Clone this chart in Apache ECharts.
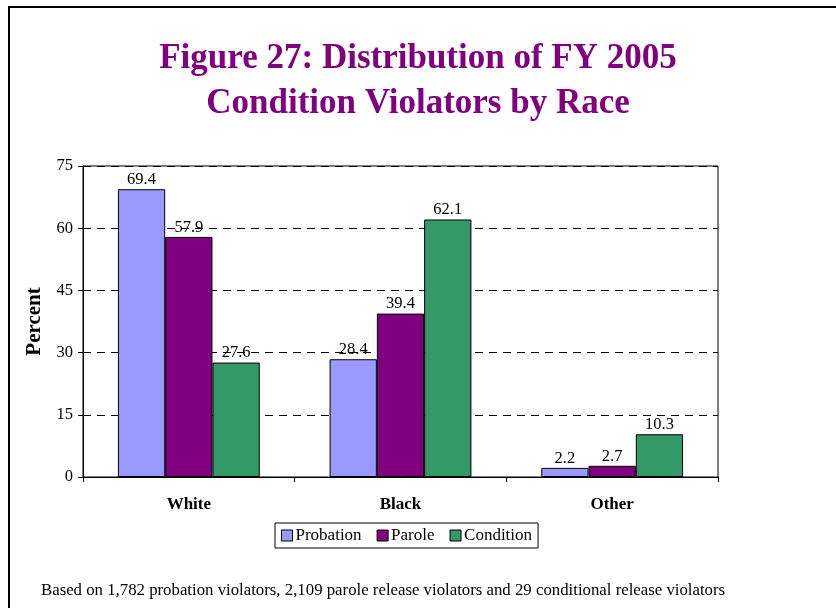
<!DOCTYPE html>
<html><head><meta charset="utf-8">
<script src="https://cdn.jsdelivr.net/npm/echarts@6/dist/echarts.min.js"></script>
<style>html,body{margin:0;padding:0;background:#fff}#c{width:836px;height:608px}</style>
</head><body><div id="c"></div>
<script>
var categories = ['White', 'Black', 'Other'];
var probation = [69.4, 28.4, 2.2];
var parole = [57.9, 39.4, 2.7];
var condition = [27.6, 62.1, 10.3];
var seriesNames = ['Probation', 'Parole', 'Condition'];
var colors = ['#9999FF', '#800080', '#339966'];

var serif = '"Liberation Serif", "Times New Roman", serif';
var chart = echarts.init(document.getElementById('c'), null, {renderer: 'canvas'});
function mk(name, data, color) {
  return {
    name: name, type: 'bar', data: data, barGap: '0%', barCategoryGap: '33%',
    itemStyle: {color: color, borderColor: '#000', borderWidth: 1},
    label: {show: true, position: 'top', distance: 1, color: '#000', fontFamily: serif, fontSize: 16.5,
      formatter: function (p) { return p.value.toFixed(1); }},
    emphasis: {disabled: true}
  };
}
chart.setOption({
  animation: false,
  backgroundColor: '#fff',
  title: {
    text: 'Figure 27: Distribution of FY 2005\nCondition Violators by Race',
    left: 'center', top: 31,
    textStyle: {fontFamily: serif, fontWeight: 'bold', fontSize: 35, color: '#800080', lineHeight: 45}
  },
  graphic: [
    {type: 'rect', shape: {x: 9, y: 7, width: 900, height: 700}, style: {fill: 'none', stroke: '#000', lineWidth: 2}, silent: true},
    {type: 'text', left: 41, top: 582, style: {text: 'Based on 1,782 probation violators, 2,109 parole release violators and 29 conditional release violators', font: '16.8px ' + serif, fill: '#000'}}
  ],
  legend: {
    data: seriesNames, left: 275, top: 523, width: 270,
    itemWidth: 11, itemHeight: 11, itemGap: 15, icon: 'rect',
    borderColor: '#000', borderWidth: 1, padding: [4, 6, 4, 6],
    textStyle: {fontFamily: serif, fontSize: 17, color: '#000', padding: [0, 0, 0, -2]},
    itemStyle: {borderColor: '#000', borderWidth: 1},
    selectedMode: false
  },
  grid: {left: 83, right: 118, top: 166, bottom: 131, show: true, borderColor: '#000', borderWidth: 1},
  xAxis: {
    type: 'category', data: categories,
    axisLine: {lineStyle: {color: '#000'}},
    axisTick: {show: true, alignWithLabel: false, length: 5, lineStyle: {color: '#000'}},
    axisLabel: {fontFamily: serif, fontWeight: 'bold', fontSize: 17, color: '#000', margin: 19}
  },
  yAxis: {
    type: 'value', min: 0, max: 75, interval: 15,
    name: 'Percent', nameLocation: 'middle', nameGap: 38, nameRotate: 90,
    nameTextStyle: {fontFamily: serif, fontWeight: 'bold', fontSize: 21, color: '#000'},
    axisLine: {show: true, lineStyle: {color: '#000'}},
    axisTick: {show: true, length: 5, lineStyle: {color: '#000'}},
    axisLabel: {fontFamily: serif, fontSize: 16.5, color: '#000', margin: 10},
    splitLine: {show: true, lineStyle: {color: '#000', type: [8, 6], width: 1}}
  },
  series: [mk(seriesNames[0], probation, colors[0]), mk(seriesNames[1], parole, colors[1]), mk(seriesNames[2], condition, colors[2])]
});
</script></body></html>
